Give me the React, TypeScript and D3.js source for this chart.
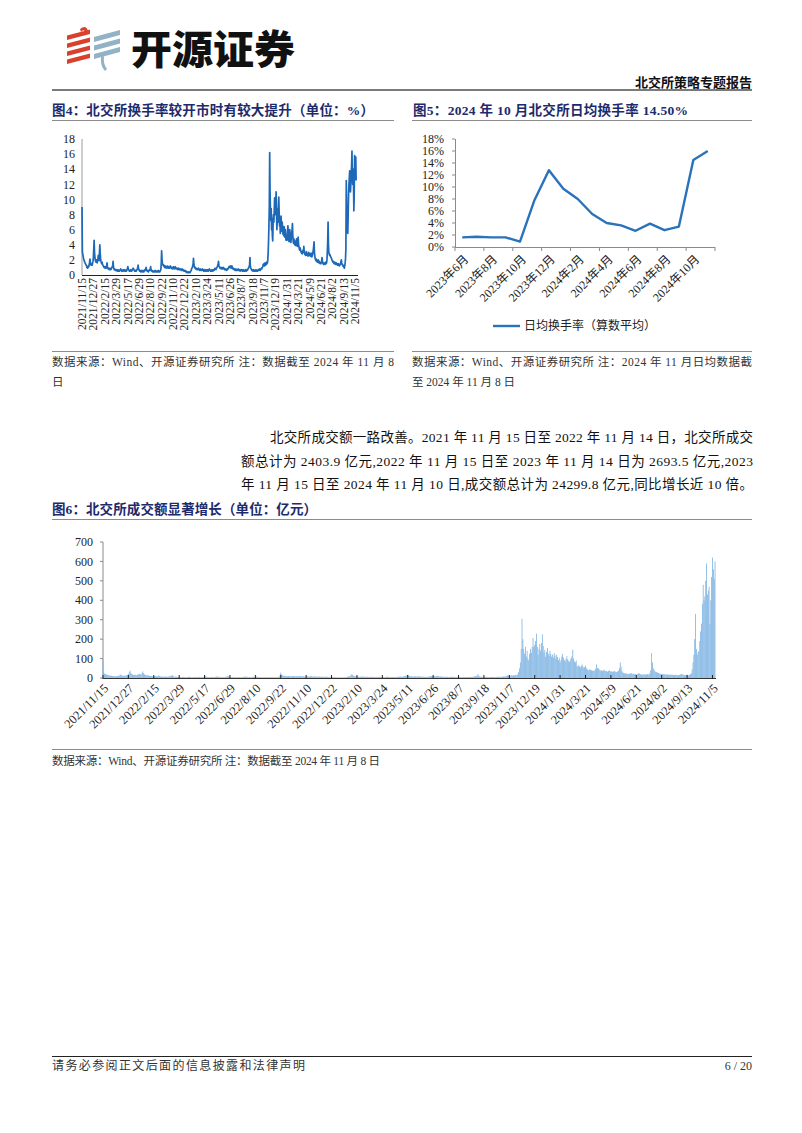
import React from 'react';
import * as d3 from 'd3';

// ---------------- DATA ----------------
const dateTicks = [
  '2021/11/15', '2021/12/27', '2022/2/15', '2022/3/29', '2022/5/17', '2022/6/29', '2022/8/10',
  '2022/9/22', '2022/11/10', '2022/12/22', '2023/2/10', '2023/3/24', '2023/5/11', '2023/6/26',
  '2023/8/7', '2023/9/18', '2023/11/7', '2023/12/19', '2024/1/31', '2024/3/21', '2024/5/9',
  '2024/6/21', '2024/8/2', '2024/9/13', '2024/11/5',
];
const tickEvery = 30; // trading days between date labels

// Fig 4: daily turnover rate (%)
const turnoverDaily = [
  9.0,3.0,2.8,2.5,2.2,2.0,1.9,1.7,1.6,1.5, 1.4,1.3,1.2,1.0,1.1,0.9,1.0,1.2,1.1,1.4, 1.7,2.1,1.6,1.4,1.3,1.5,1.4,1.3,1.6,1.8,
  2.3,3.5,4.6,3.0,2.4,2.0,1.8,1.7,2.0,1.8, 1.6,1.9,2.2,2.6,2.1,1.9,2.8,4.0,2.9,2.2, 1.8,1.6,1.5,1.7,1.4,1.3,1.2,1.1,1.0,1.1,
  1.0,0.9,1.1,1.0,0.9,1.2,1.6,1.1,0.9,0.8, 0.9,0.8,0.7,0.8,0.9,0.8,0.7,0.8,0.9,1.0, 1.1,1.3,1.8,1.1,0.8,0.7,0.8,0.7,0.6,0.7,
  0.6,0.7,0.6,0.5,0.6,0.7,0.6,0.5,0.6,0.5, 0.6,0.7,0.8,0.7,0.6,0.5,0.6,0.5,0.6,0.7, 0.6,0.5,0.6,0.7,0.6,0.5,0.6,0.5,0.6,0.7,
  0.9,1.1,0.8,0.7,0.6,0.5,0.6,0.5,0.6,0.7, 0.6,0.5,0.6,0.7,0.8,0.9,0.8,0.7,0.6,0.5, 0.6,0.5,0.6,0.5,0.6,0.7,0.8,1.0,1.3,0.9,
  0.7,0.6,0.5,0.6,0.5,0.4,0.5,0.6,0.5,0.4, 0.5,0.6,0.5,0.4,0.5,0.6,0.7,0.6,0.8,1.0, 0.7,0.6,0.5,0.6,0.5,0.4,0.5,0.6,0.7,0.6,
  0.8,1.1,0.7,0.6,0.5,0.6,0.5,0.4,0.5,0.4, 0.5,0.4,0.5,0.6,0.5,0.4,0.5,0.4,0.5,0.4, 0.5,0.6,0.5,0.4,0.5,0.4,0.5,0.6,0.7,1.5,
  3.2,2.2,1.6,1.4,1.3,1.2,1.3,1.1,1.0,1.2, 1.1,1.0,0.9,1.0,1.1,1.2,1.0,0.9,1.0,1.1, 0.9,1.0,1.1,1.2,1.0,0.9,1.0,0.9,0.8,0.9,
  1.0,1.1,0.9,0.8,0.9,1.0,1.1,0.9,0.8,0.9, 0.8,0.9,0.8,0.7,0.8,0.9,0.8,0.7,0.8,0.7, 0.8,0.7,0.6,0.7,0.8,0.7,0.6,0.7,0.6,0.5,
  0.6,0.5,0.6,0.5,0.4,0.5,0.4,0.3,0.4,0.3, 0.4,0.3,0.3,0.4,0.3,0.3,0.4,0.5,0.6,0.8, 0.9,1.0,1.2,1.5,2.2,1.6,1.2,1.0,0.9,1.0,
  0.8,0.9,0.8,0.7,0.8,0.7,0.8,0.9,0.8,0.7, 0.6,0.7,0.8,0.7,0.6,0.7,0.6,0.7,0.8,0.7, 0.6,0.5,0.6,0.7,0.6,0.5,0.6,0.7,0.6,0.5,
  0.6,0.7,0.6,0.5,0.6,0.7,0.8,0.7,0.6,0.5, 0.6,0.5,0.6,0.7,0.6,0.5,0.6,0.7,0.6,0.7, 0.8,0.9,0.8,0.7,0.8,0.9,1.0,1.1,1.3,1.5,
  1.8,1.3,1.1,1.0,0.9,1.0,0.9,0.8,0.9,1.0, 0.9,0.8,0.9,1.0,0.9,0.8,0.7,0.8,0.7,0.8, 0.7,0.6,0.7,0.8,0.7,0.8,0.9,1.0,1.1,1.0,
  1.1,1.2,1.0,0.9,1.0,1.2,1.1,0.9,0.8,0.9, 0.8,0.7,0.8,0.7,0.6,0.7,0.8,0.7,0.6,0.7, 0.6,0.7,0.8,0.7,0.6,0.7,0.6,0.5,0.6,0.7,
  0.6,0.7,0.6,0.5,0.6,0.7,0.6,0.5,0.6,0.5, 0.6,0.7,0.6,0.5,0.6,0.7,0.6,0.7,0.8,0.9, 1.0,1.1,1.4,2.3,1.2,0.9,0.8,0.7,0.6,0.7,
  0.6,0.5,0.6,0.7,0.6,0.5,0.6,0.5,0.6,0.7, 0.6,0.5,0.6,0.5,0.6,0.7,0.6,0.7,0.8,0.7, 0.6,0.7,0.8,0.9,0.8,0.9,1.0,1.2,1.4,1.3,
  1.5,1.2,1.4,1.6,1.3,1.5,1.4,1.7,1.5,1.6, 2.0,3.0,4.5,6.5,9.0,16.2,11.0,8.5,7.2,8.8, 6.0,7.5,5.2,4.5,6.8,8.0,7.0,8.5,10.2,8.0,
  8.5,9.5,11.0,8.0,6.0,7.5,8.8,7.0,9.0,10.3, 8.2,6.5,7.2,5.5,6.8,7.8,6.3,5.8,7.0,6.2, 5.4,6.0,5.2,6.4,5.8,5.0,6.0,5.4,4.6,5.2,
  5.0,4.6,5.8,6.5,5.5,4.8,4.4,5.2,6.0,5.0, 4.6,4.3,5.0,5.6,6.0,6.8,5.2,4.5,4.2,4.8, 4.4,4.0,4.5,4.2,3.9,4.3,4.8,4.2,3.8,4.1,
  5.0,4.2,3.8,3.5,3.3,3.6,3.4,3.2,3.0,2.9, 3.1,2.8,3.0,3.3,3.0,3.8,3.2,2.9,2.7,2.8, 2.6,2.9,3.1,2.8,2.6,2.7,2.5,2.8,3.0,2.7,
  2.6,2.8,2.5,2.7,2.9,2.6,2.4,2.5,2.7,3.0, 3.3,3.8,4.4,3.0,2.5,2.2,2.0,1.9,2.1,1.8, 1.9,1.7,1.8,2.0,1.7,1.6,1.8,1.7,1.5,1.6,
  1.5,1.6,1.8,2.3,1.9,1.6,1.5,1.4,1.5,1.6, 1.5,1.4,1.6,1.7,1.5,1.6,2.0,3.0,4.5,7.0, 4.0,3.0,2.8,2.6,2.7,2.5,2.4,2.3,2.2,2.0,
  1.9,1.8,1.7,1.8,1.6,1.5,1.6,1.7,1.5,1.4, 1.5,1.6,1.4,1.5,1.3,1.4,1.5,1.3,1.4,1.2, 1.3,1.4,1.6,1.8,2.0,1.6,1.4,1.3,1.2,1.3,
  1.1,1.0,0.9,1.2,1.6,2.2,3.5,12.5,9.0,7.0, 5.8,5.5,8.0,10.5,12.0,12.8,13.8,12.5,11.0,12.0, 13.5,14.5,16.4,13.0,12.0,14.0,12.5,8.5,11.0,15.8,
  14.0,13.0,15.6,12.5,
];

// Fig 6: daily turnover value (亿元)
const volumeDaily = [
  95,28,22,20,18,16,15,14,13,12, 12,11,10,9,10,8,9,11,10,12, 15,18,14,12,11,13,12,11,14,16,
  20,30,38,26,21,18,16,15,17,16, 14,17,19,22,18,17,24,34,25,19, 16,14,13,15,12,11,10,10,9,10,
  9,8,10,9,8,10,14,10,8,7, 8,7,6,7,8,7,6,7,8,9, 10,12,15,9,7,6,7,6,5,6,
  5,6,5,4,5,6,5,4,5,4, 5,6,7,6,5,4,5,4,5,6, 5,4,5,6,5,4,5,4,5,6,
  8,9,7,6,5,4,5,4,5,6, 5,4,5,6,7,8,7,6,5,4, 5,4,5,4,5,6,7,8,11,8,
  6,5,4,5,4,4,4,5,4,4, 4,5,4,4,4,5,6,5,7,8, 6,5,4,5,4,4,4,5,6,5,
  7,9,6,5,4,5,4,4,4,4, 4,4,4,5,4,4,4,4,4,4, 4,5,4,4,4,4,4,5,6,13,
  28,19,14,12,11,10,11,10,9,10, 10,9,8,9,10,10,9,8,9,10, 8,9,10,10,9,8,9,8,7,8,
  9,10,8,7,8,9,10,8,7,8, 7,8,7,6,7,8,7,6,7,6, 7,6,5,6,7,6,5,6,5,4,
  5,4,5,4,4,4,4,3,4,3, 4,3,3,4,3,3,4,4,5,7, 8,9,11,14,20,15,11,9,8,9,
  7,8,7,6,7,6,7,8,7,6, 5,6,7,6,5,6,5,6,7,6, 5,5,5,6,5,5,5,6,5,5,
  5,6,5,5,5,6,7,6,5,5, 5,5,5,6,5,5,5,6,5,6, 7,8,7,6,7,8,9,10,12,13,
  16,12,10,9,8,9,8,7,8,9, 8,7,8,9,8,7,6,7,6,7, 6,5,6,7,6,7,8,9,10,9,
  10,11,9,8,9,11,10,8,7,8, 7,6,7,6,5,6,7,6,5,6, 5,6,7,6,5,6,5,5,5,6,
  5,6,5,5,5,6,5,5,5,5, 5,6,5,5,5,6,5,6,7,8, 9,10,13,20,11,8,7,6,5,6,
  5,5,5,6,5,5,5,5,5,6, 5,5,5,5,5,6,5,6,7,6, 5,6,7,8,7,8,9,11,13,12,
  14,11,13,15,12,14,13,16,14,15, 19,30,50,80,150,305,200,150,125,160, 110,140,100,90,125,150,130,160,206,160,
  170,190,228,160,120,150,175,140,180,225, 165,130,145,110,135,155,125,115,140,125, 110,120,105,128,116,100,120,108,92,104,
  80,92,110,124,105,92,84,98,112,96, 88,82,94,104,112,146,100,86,80,90, 62,58,66,60,55,62,70,60,52,56,
  64,50,45,42,40,44,42,40,38,36, 40,36,48,70,52,50,46,40,38,40, 36,39,42,38,35,36,33,36,40,35,
  33,35,31,34,36,33,30,31,34,38, 50,80,60,38,30,26,24,23,25,21, 22,20,21,24,25,22,20,22,19,20,
  18,19,21,26,22,19,18,17,18,19, 18,17,19,20,18,19,24,40,128,80, 50,42,35,32,30,28,26,24,22,21,
  20,20,19,20,18,17,18,19,17,16, 17,18,16,17,15,16,17,15,16,14, 15,16,18,20,22,18,16,15,14,15,
  18,15,14,16,20,25,45,80,120,200, 330,150,120,135,140,190,240,280,380,480, 400,420,500,590,430,450,470,280,400,520,
  620,560,510,600,
];

// Fig 5: monthly average daily turnover (%)
const months = [
  '2023年6月', '2023年7月', '2023年8月', '2023年9月', '2023年10月', '2023年11月', '2023年12月',
  '2024年1月', '2024年2月', '2024年3月', '2024年4月', '2024年5月', '2024年6月', '2024年7月',
  '2024年8月', '2024年9月', '2024年10月', '2024年11月',
];
const monthlyAvgTurnover = [1.6, 1.7, 1.6, 1.6, 0.9, 7.8, 12.8, 9.7, 8.0, 5.5, 4.0, 3.6, 2.7, 3.9, 2.8, 3.4, 14.5, 16.0];

const fig4YTicks = [0, 2, 4, 6, 8, 10, 12, 14, 16, 18];
const fig5YTicks = [0, 2, 4, 6, 8, 10, 12, 14, 16, 18];
const fig6YTicks = [0, 100, 200, 300, 400, 500, 600, 700];

// ---------------- STYLE ----------------
const SERIF = "'Liberation Serif', 'Noto Sans CJK SC', serif";
const TITLE_COLOR = '#1d2a6c';
const TEXT = '#222';

export default function App() {
  // Fig 4 scales
  const x4 = d3.scaleLinear().domain([0, 720]).range([82, 355]);
  const y4 = d3.scaleLinear().domain([0, 18]).range([275, 139]);
  const line4 = d3.line<number>().x((_, i) => x4(i)).y((d) => y4(d));

  // Fig 5 scales
  const x5 = d3.scaleBand<string>().domain(months).range([455, 715]);
  const y5 = d3.scaleLinear().domain([0, 18]).range([247, 139]);
  const line5 = d3
    .line<number>()
    .x((_, i) => (x5(months[i]) as number) + x5.bandwidth() / 2)
    .y((d) => y5(d));

  // Fig 6 scales
  const x6 = d3.scaleBand<number>().domain(d3.range(volumeDaily.length)).range([102.5, 715.5]).padding(0.12);
  const y6 = d3.scaleLinear().domain([0, 700]).range([678, 542]);
  const c6 = (i: number) => (x6(i) as number) + x6.bandwidth() / 2;

  return (
    <svg
      width={802}
      height={1133}
      viewBox="0 0 802 1133"
      style={{ position: 'absolute', left: 0, top: 0, display: 'block', background: '#fff' }}
    >
      <rect x={0} y={0} width={802} height={1133} fill="#fff" />

      {/* ---------- Header ---------- */}
      <g>
        {[0, 1, 2, 3].map((k) => {
          const yb = 64 - k * 8;
          return (
            <polygon
              key={'r' + k}
              points={`67,${yb} 90,${yb - 6} 90,${yb - 10.5} 67,${yb - 4.5}`}
              fill="#d9412f"
            />
          );
        })}
        <path d="M80,29 Q86,24 88,31 L86,33 Q84,28 81,32 Z" fill="#d9412f" />
        {[0, 1, 2].map((k) => {
          const yb = 59 - k * 8.5;
          return (
            <polygon
              key={'b' + k}
              points={`94,${yb} 120,${yb - 7} 120,${yb - 12} 94,${yb - 5}`}
              fill="#92b3c6"
            />
          );
        })}
        <path d="M101,57 L104,56 Q103,64 107,69 L105,71 Q100,66 101,57 Z" fill="#92b3c6" />
        <text
          x={131}
          y={64}
          fontFamily="'Noto Sans CJK SC'"
          fontWeight={900}
          fontSize={40}
          textLength={164}
          lengthAdjust="spacingAndGlyphs"
          fill="#111"
        >
          开源证券
        </text>
        <text x={752} y={87} textAnchor="end" fontFamily={SERIF} fontWeight={700} fontSize={13} fill="#111">
          北交所策略专题报告
        </text>
        <line x1={52} x2={752} y1={90} y2={90} stroke="#7a7a7a" strokeWidth={2} />
      </g>

      {/* ---------- Fig 4 ---------- */}
      <g>
        <text
          x={52}
          y={115}
          fontFamily={SERIF}
          fontWeight={700}
          fontSize={13.5}
          fill={TITLE_COLOR}
          textLength={322}
          lengthAdjust="spacing"
        >
          图4：北交所换手率较开市时有较大提升（单位：%）
        </text>
        <line x1={52} x2={394} y1={120.5} y2={120.5} stroke="#8c8c8c" strokeWidth={1} />
        {fig4YTicks.map((t) => (
          <text key={t} x={75} y={y4(t)} dy="0.35em" textAnchor="end" fontFamily={SERIF} fontSize={12} fill={TEXT}>
            {t}
          </text>
        ))}
        <line x1={82} x2={82} y1={139} y2={275} stroke="#9a9a9a" strokeWidth={1} />
        <path d={line4(turnoverDaily) || ''} fill="none" stroke="#1d69b8" strokeWidth={1.7} strokeLinejoin="round" />
        <line x1={82} x2={358} y1={275.5} y2={275.5} stroke="#222" strokeWidth={1} />
        {dateTicks.map((d, i) => (
          <text
            key={d}
            transform={`translate(${x4(i * tickEvery)},278) rotate(-90)`}
            dy="0.35em"
            textAnchor="end"
            fontFamily={SERIF}
            fontSize={11.5}
            fill={TEXT}
          >
            {d}
          </text>
        ))}
        <line x1={52} x2={394} y1={351.5} y2={351.5} stroke="#8c8c8c" strokeWidth={1} />
        <text x={52} y={366} fontFamily={SERIF} fontSize={11.5} fill="#333" textLength={342} lengthAdjust="spacing">
          数据来源：Wind、开源证券研究所 注：数据截至 2024 年 11 月 8
        </text>
        <text x={52} y={386} fontFamily={SERIF} fontSize={11.5} fill="#333">
          日
        </text>
      </g>

      {/* ---------- Fig 5 ---------- */}
      <g>
        <text
          x={413}
          y={115}
          fontFamily={SERIF}
          fontWeight={700}
          fontSize={13.5}
          fill={TITLE_COLOR}
          textLength={275}
          lengthAdjust="spacing"
        >
          图5：2024 年 10 月北交所日均换手率 14.50%
        </text>
        <line x1={412} x2={752} y1={120.5} y2={120.5} stroke="#8c8c8c" strokeWidth={1} />
        {fig5YTicks.map((t) => (
          <g key={t}>
            <text x={444} y={y5(t)} dy="0.35em" textAnchor="end" fontFamily={SERIF} fontSize={12} fill={TEXT}>
              {t + '%'}
            </text>
            <line x1={452} x2={455} y1={y5(t)} y2={y5(t)} stroke="#8a8a8a" />
          </g>
        ))}
        <line x1={455.5} x2={455.5} y1={139} y2={247} stroke="#8a8a8a" strokeWidth={1} />
        <line x1={455} x2={715} y1={247.5} y2={247.5} stroke="#8a8a8a" strokeWidth={1} />
        {d3.range(0, months.length + 1, 2).map((k) => {
          const xx = 455 + k * x5.bandwidth();
          return <line key={k} x1={xx} x2={xx} y1={247} y2={251} stroke="#8a8a8a" />;
        })}
        <path
          d={line5(monthlyAvgTurnover) || ''}
          fill="none"
          stroke="#2a72b9"
          strokeWidth={2.4}
          strokeLinejoin="round"
        />
        {months.map((m, i) =>
          i % 2 === 0 ? (
            <text
              key={m}
              transform={`translate(${(x5(m) as number) + x5.bandwidth() / 2 + 4},257) rotate(-45)`}
              dy="0.35em"
              textAnchor="end"
              fontFamily={SERIF}
              fontSize={12}
              fill={TEXT}
            >
              {m}
            </text>
          ) : null
        )}
        <line x1={493} x2={520} y1={326} y2={326} stroke="#2a72b9" strokeWidth={2.4} />
        <text x={524} y={326} dy="0.35em" fontFamily={SERIF} fontSize={12} fill={TEXT}>
          日均换手率（算数平均）
        </text>
        <line x1={412} x2={752} y1={351.5} y2={351.5} stroke="#8c8c8c" strokeWidth={1} />
        <text x={412} y={366} fontFamily={SERIF} fontSize={11.5} fill="#333" textLength={340} lengthAdjust="spacing">
          数据来源：Wind、开源证券研究所 注：2024 年 11 月日均数据截
        </text>
        <text x={412} y={386} fontFamily={SERIF} fontSize={11.5} fill="#333">
          至 2024 年 11 月 8 日
        </text>
      </g>

      {/* ---------- Paragraph ---------- */}
      <g fontFamily={SERIF} fontSize={13.5} fill="#111">
        <text x={270} y={442} textLength={483} lengthAdjust="spacing">
          北交所成交额一路改善。2021 年 11 月 15 日至 2022 年 11 月 14 日，北交所成交
        </text>
        <text x={241} y={466} textLength={512} lengthAdjust="spacing">
          额总计为 2403.9 亿元,2022 年 11 月 15 日至 2023 年 11 月 14 日为 2693.5 亿元,2023
        </text>
        <text x={241} y={489} textLength={512} lengthAdjust="spacing">
          年 11 月 15 日至 2024 年 11 月 10 日,成交额总计为 24299.8 亿元,同比增长近 10 倍。
        </text>
      </g>

      {/* ---------- Fig 6 ---------- */}
      <g>
        <text
          x={52}
          y={514}
          fontFamily={SERIF}
          fontWeight={700}
          fontSize={13.5}
          fill={TITLE_COLOR}
          textLength={265}
          lengthAdjust="spacing"
        >
          图6：北交所成交额显著增长（单位：亿元）
        </text>
        <line x1={52} x2={752} y1={519.5} y2={519.5} stroke="#8c8c8c" strokeWidth={1} />
        {fig6YTicks.map((t) => (
          <g key={t}>
            <text x={93} y={y6(t)} dy="0.35em" textAnchor="end" fontFamily={SERIF} fontSize={12} fill={TEXT}>
              {t}
            </text>
            <line x1={100} x2={103} y1={y6(t)} y2={y6(t)} stroke="#8a8a8a" />
          </g>
        ))}
        <line x1={103} x2={103} y1={542} y2={678} stroke="#8a8a8a" strokeWidth={1} />
        {volumeDaily.map((v, i) => (
          <rect
            key={i}
            x={x6(i) as number}
            y={y6(v)}
            width={x6.bandwidth()}
            height={678 - y6(v)}
            fill="#74ade0"
          />
        ))}
        <line x1={103} x2={716} y1={678.5} y2={678.5} stroke="#333" strokeWidth={1} />
        {dateTicks.map((d, i) => (
          <g key={d}>
            <line x1={c6(i * tickEvery)} x2={c6(i * tickEvery)} y1={675} y2={679} stroke="#222" strokeWidth={1} />
            <text
              transform={`translate(${c6(i * tickEvery) + 3},686) rotate(-45)`}
              dy="0.35em"
              textAnchor="end"
              fontFamily={SERIF}
              fontSize={12.5}
              fill={TEXT}
            >
              {d}
            </text>
          </g>
        ))}
        <line x1={52} x2={752} y1={749.5} y2={749.5} stroke="#8c8c8c" strokeWidth={1} />
        <text x={52} y={765} fontFamily={SERIF} fontSize={11.5} fill="#333" textLength={328} lengthAdjust="spacing">
          数据来源：Wind、开源证券研究所 注：数据截至 2024 年 11 月 8 日
        </text>
      </g>

      {/* ---------- Footer ---------- */}
      <line x1={52} x2={752} y1={1056.5} y2={1056.5} stroke="#222" strokeWidth={1} />
      <text x={52} y={1070} fontFamily={SERIF} fontSize={12} fill="#333" textLength={253} lengthAdjust="spacing">
        请务必参阅正文后面的信息披露和法律声明
      </text>
      <text x={752} y={1070} textAnchor="end" fontFamily={SERIF} fontSize={12} fill="#333">
        6 / 20
      </text>
    </svg>
  );
}
